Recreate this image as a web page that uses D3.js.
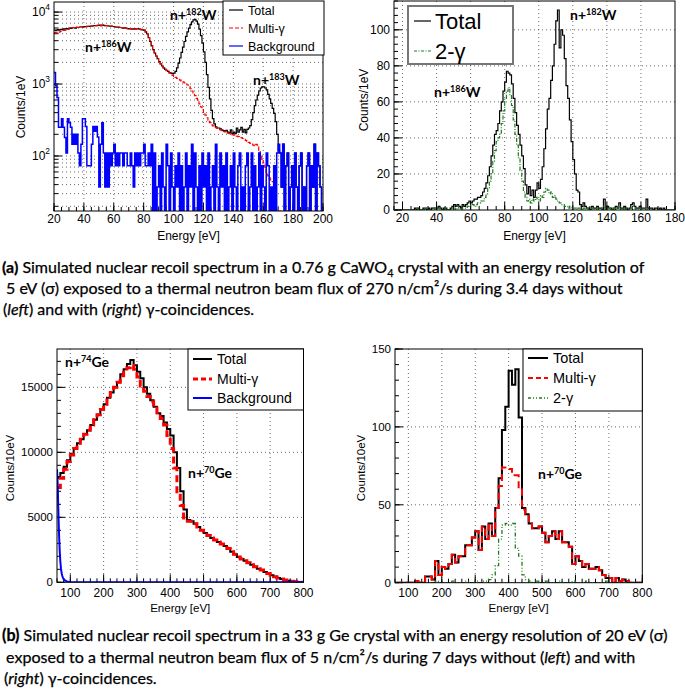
<!DOCTYPE html>
<html><head><meta charset="utf-8">
<script src="https://cdn.jsdelivr.net/npm/d3@7"></script>
<style>
html,body{margin:0;padding:0;background:#fff;}
svg{display:block;}
</style></head><body>
<svg id="chart" width="685" height="689"></svg>
<script>
// ---------------- DATA ----------------
// Panel (a) left: 1 eV bins from 20 to 200 eV
const tlStart = 20, tlBin = 1;
const tlTotal = [
5600,5500,5700,5600,5750,5700,5850,5800,5900,5850,
6000,5950,6050,6100,6000,6150,6100,6200,6250,6150,
6300,6250,6350,6300,6400,6350,6450,6500,6450,6550,
6600,6500,6600,6550,6450,6500,6400,6350,6400,6300,
6250,6200,6150,6200,6100,6050,6000,6050,5950,5900,
5850,5900,5800,5850,5800,5900,5850,5800,5700,5650,
5600,5300,5000,4400,3900,3400,3000,2700,2450,2250,
2050,1900,1780,1680,1600,1550,1500,1440,1420,1400,
1420,1500,1680,1950,2300,2750,3250,3900,4600,5300,
6000,6700,7300,7800,7900,7500,6800,5800,4700,3700,
2800,2000,1350,900,620,430,330,280,255,245,
245,238,230,225,222,228,215,210,230,205,
215,205,245,215,230,250,215,235,210,235,
245,265,320,400,500,600,700,800,880,910,
910,880,830,720,620,540,460,390,300,200,
120,110,37,146,0,73,110,0,37,73,
0,110,37,0,73,110,0,37,0,73,
110,0,73,37,146,0,110,73,37,0];
const tlMulti = [
5200,5150,5300,5250,5400,5400,5550,5600,5750,5750,
6000,5950,6050,6100,6000,6150,6100,6200,6250,6150,
6300,6250,6350,6300,6400,6350,6450,6500,6450,6550,
6600,6500,6600,6550,6450,6500,6400,6350,6400,6300,
6250,6200,6150,6200,6100,6050,6000,6050,5950,5900,
5850,5900,5800,5850,5800,5900,5850,5800,5700,5650,
5600,5300,5000,4400,3900,3400,3000,2700,2450,2250,
2050,1900,1780,1680,1600,1540,1480,1420,1370,1320,
1280,1240,1200,1160,1130,1100,1070,1040,1000,970,
920,860,800,750,690,630,580,530,480,440,
405,370,340,315,290,270,262,255,248,241,
235,230,225,220,216,212,208,205,201,198,
195,192,189,186,183,180,175,170,165,160,
155,150,146,142,138,145,142,120,100,90,
80,70,60,53,48,46,44,42,0,0,
0,0,0,0,0,0,0,0,0,0,
0,0,0,0,0,0,0,0,0,0,
0,0,0,0,0,0,0,0,0,0];
const tlBackground = [
1450,950,650,250,250,330,250,180,110,330,
290,250,146,200,146,200,110,73,146,330,
330,256,73,73,73,146,256,220,256,183,
37,146,290,110,37,110,37,110,73,110,
146,73,110,73,110,110,73,110,110,73,
73,110,73,37,110,73,110,73,110,110,
146,73,73,110,73,146,0,110,0,37,
73,0,110,37,0,146,73,0,110,37,
0,73,37,110,0,73,0,37,110,0,
73,37,146,0,110,37,0,73,0,110,
37,73,0,110,0,37,73,0,146,37,
0,110,37,73,0,110,0,37,73,0,
110,37,0,73,110,0,37,0,73,110,
0,37,110,0,73,0,37,110,0,73,
37,0,110,73,0,37,0,73,0,110,
146,110,37,146,0,73,110,0,37,73,
0,110,37,0,73,110,0,37,0,73,
110,0,73,37,146,0,110,73,37,0];

// Panel (a) right: 1 eV bins from 15 to 180 eV
const trStart = 15, trBin = 1;
const trTotal = [
0,0,0,0,0,0,0,0,0,0,
0,0,1,0,1,0,0,1,1,0,
1,0,1,1,1,1,2,1,0,1,
1,0,0,1,2,3,2,3,2,1,
3,2,3,4,5,4,5,6,6,7,
7,8,10,12,15,19,24,30,36,42,
44,48,55,60,66,71,77,76,75,70,
62,54,47,42,36,30,23,14,9,13,
8,11,7,11,15,12,17,24,34,45,
56,62,72,80,92,105,111,90,100,97,
84,69,62,50,38,28,20,11,10,3,
2,4,2,1,1,0,2,1,1,2,
1,1,0,6,1,2,1,1,0,1,
2,1,4,1,1,2,1,0,1,3,
4,2,1,1,2,1,1,1,6,1,
1,1,0,1,1,0,1,0,1,0,
0,0,0,0,0];
const trTwoGamma = [
0,0,0,0,0,0,0,0,0,0,
0,0,0,1,0,0,0,0,1,0,
0,0,0,1,0,0,1,0,0,0,
1,0,0,0,1,1,0,2,1,0,
1,1,1,2,2,3,3,2,3,4,
4,5,5,7,9,12,16,20,27,33,
38,40,42,48,55,62,66,68,64,58,
50,42,36,29,22,16,10,7,5,6,
4,6,5,7,6,5,8,7,10,12,
11,9,10,7,8,6,5,4,3,3,
2,2,1,2,1,1,1,0,1,1,
0,1,0,1,0,0,1,0,0,1,
0,0,1,2,0,0,1,0,0,1,
0,1,2,0,0,1,0,0,0,1,
2,1,0,0,1,0,0,0,1,0,
0,0,0,0,0,0,0,0,0,0,
0,0,0,0,0];

// Panel (b) left: 10 eV bins from 60 to 800 eV
const blStart = 60, blBin = 10;
const blTotal = [
8100,8400,8900,9400,9900,10300,10700,11000,11400,11700,
12100,12500,12900,13300,13700,14200,14600,15000,15400,16000,
16400,16800,17100,16700,16200,15700,15000,14500,14000,13500,
13000,12800,12300,11800,11300,10000,8800,7000,5600,4800,
4700,4500,4250,4000,3800,3600,3400,3250,3100,2950,
2800,2600,2350,2150,1950,1800,1650,1500,1350,1200,
1050,950,800,680,550,420,330,250,180,120,
80,50,20,5];
const blMulti = [
7300,8000,8700,9300,9800,10300,10700,11000,11400,11700,
12100,12500,12900,13300,13700,14200,14600,15000,15400,15900,
16300,16500,16700,16400,15800,15100,14700,14300,13900,13400,
12900,12600,12100,11300,10300,8800,6700,5900,4700,4700,
4700,4500,4250,4000,3800,3600,3400,3250,3100,2950,
2800,2600,2350,2150,1950,1800,1650,1500,1350,1200,
1050,950,800,680,550,420,330,250,180,120,
80,50,20,5];
const blBgEnergy = [60,62,64,66,68,70,72,74,76,78,80,85,90,95,100,110,130,200,800];
const blBgValue  = [8700,7600,5600,3800,2500,1600,1050,700,480,340,250,130,70,40,25,10,4,1,0];

// Panel (b) right: 10 eV bins from 60 to 800 eV
const brStart = 60, brBin = 10;
const brTotal = [
0,0,0,0,0,0,1,0,0,4,
4,2,14,5,10,9,12,18,13,17,
17,24,24,29,33,21,36,28,38,30,
48,67,98,113,136,127,137,106,48,44,
38,35,35,36,32,26,30,33,28,33,
26,26,23,12,17,14,10,12,9,9,
10,8,5,3,3,0,3,1,2,1,
0,0,0,0];
const brMulti = [
0,0,0,0,0,0,1,0,0,4,
4,2,14,5,10,9,12,18,13,17,
17,24,24,29,33,21,36,28,38,30,
48,62,74,74,73,69,69,60,47,44,
38,35,35,36,32,26,30,33,28,33,
26,26,23,12,17,14,10,12,9,9,
10,8,5,3,3,0,3,1,2,1,
0,0,0,0];
const brTwoGamma = [
0,0,0,0,0,0,0,0,0,0,
0,0,1,0,0,0,0,1,0,0,
0,1,0,0,1,0,1,1,2,5,
11,28,37,38,37,38,22,17,5,2,
1,0,1,0,0,1,0,0,0,1,
0,0,0,1,0,0,0,1,0,0,
0,0,0,1,0,0,0,0,0,0,
0,0,0,0];

const tlTicksX = [20,40,60,80,100,120,140,160,180,200];
const trTicksX = [20,40,60,80,100,120,140,160,180];
const trTicksY = [0,20,40,60,80,100];
const bTicksX = [100,200,300,400,500,600,700,800];
const blTicksY = [0,5000,10000,15000];
const brTicksY = [0,50,100,150];

// ---------------- DRAWING ----------------
const svg = d3.select('#chart');
const AX = "'Liberation Sans', Arial, Helvetica, sans-serif";
const CAP = "Lato, 'Open Sans', sans-serif";

function histPts(start, w, vals){
  const p = vals.map((v,i)=>[start+i*w, v]);
  p.push([start+vals.length*w, vals[vals.length-1]]);
  return p;
}

let clipN = 0;
function panel(p){
  const g = svg.append('g');
  const [x0,x1] = p.x.range();
  const [y0,y1] = p.y.range();
  const cid = 'clip'+(clipN++);
  svg.append('clipPath').attr('id',cid).append('rect')
    .attr('x',x0).attr('y',y1).attr('width',x1-x0).attr('height',y0-y1);
  // grid
  const grid = g.append('g').attr('stroke','#444').attr('stroke-width',0.8).attr('stroke-dasharray','1,3');
  p.gridX.forEach(v=>grid.append('line').attr('x1',p.x(v)).attr('x2',p.x(v)).attr('y1',y1).attr('y2',y0));
  p.gridY.forEach(v=>grid.append('line').attr('y1',p.y(v)).attr('y2',p.y(v)).attr('x1',x0).attr('x2',x1));
  // ticks (inward)
  const tk = g.append('g').attr('stroke','#000').attr('stroke-width',1);
  p.xMajor.forEach(v=>tk.append('line').attr('x1',p.x(v)).attr('x2',p.x(v)).attr('y1',y0).attr('y2',y0-p.tl));
  p.xMinor.forEach(v=>tk.append('line').attr('x1',p.x(v)).attr('x2',p.x(v)).attr('y1',y0).attr('y2',y0-p.tl/2));
  p.yMajor.forEach(v=>tk.append('line').attr('y1',p.y(v)).attr('y2',p.y(v)).attr('x1',x0).attr('x2',x0+p.tl));
  p.yMinor.forEach(v=>tk.append('line').attr('y1',p.y(v)).attr('y2',p.y(v)).attr('x1',x0).attr('x2',x0+p.tl/2));
  // series
  const sg = g.append('g').attr('clip-path','url(#'+cid+')');
  const lo = p.y.domain()[0];
  p.series.forEach(s=>{
    const line = d3.line().x(d=>p.x(d[0])).y(d=>p.y(Math.max(d[1], lo)));
    if(s.step) line.curve(d3.curveStepAfter);
    sg.append('path').attr('d', line(s.pts)).attr('fill','none')
      .attr('stroke', s.color).attr('stroke-width', s.width)
      .attr('stroke-dasharray', s.dash || null).attr('stroke-linejoin','miter');
  });
  // frame
  g.append('rect').attr('x',x0).attr('y',y1).attr('width',x1-x0).attr('height',y0-y1)
    .attr('fill','none').attr('stroke','#000').attr('stroke-width',1);
  // tick labels
  const lab = g.append('g').attr('font-family',AX).attr('fill','#000');
  p.xLabels.forEach(v=>lab.append('text').attr('x',p.x(v)).attr('y',p.xLabY)
    .attr('text-anchor','middle').attr('font-size',p.xfs).text(v));
  p.yLabels.forEach(v=>{
    const t = lab.append('text').attr('x',x0-4).attr('y',p.y(v)+p.yfs*0.36)
      .attr('text-anchor','end').attr('font-size',p.yfs);
    if(p.logLabels){
      t.append('tspan').text('10');
      t.append('tspan').attr('dy',-6).attr('font-size',p.yfs*0.7).text(Math.round(Math.log10(v)));
    } else t.text(v);
  });
  // axis titles
  lab.append('text').attr('x',(x0+x1)/2).attr('y',p.xTitleY).attr('text-anchor','middle')
    .attr('font-size',p.tfs).text('Energy [eV]');
  lab.append('text').attr('transform',`translate(${p.yTitleX},${p.yTitleY}) rotate(-90)`)
    .attr('text-anchor','middle').attr('font-size',p.tfs).text(p.yTitle);
  // legend
  const L = p.legend;
  const lg = g.append('g');
  lg.append('rect').attr('x',L.x).attr('y',L.y).attr('width',L.w).attr('height',L.h)
    .attr('fill','#fff').attr('stroke',L.stroke||'#000').attr('stroke-width',L.sw||1);
  L.items.forEach(it=>{
    lg.append('line').attr('x1',L.lx0).attr('x2',L.lx1).attr('y1',it.y).attr('y2',it.y)
      .attr('stroke',it.color).attr('stroke-width',it.width).attr('stroke-dasharray',it.dash||null);
    lg.append('text').attr('x',L.tx).attr('y',it.y+L.fs*0.36).attr('font-family',AX)
      .attr('font-size',L.fs).text(it.label);
  });
  // annotations
  p.notes.forEach(n=>{
    const t = g.append('text').attr('x',n.x).attr('y',n.y).attr('font-family',CAP)
      .attr('font-weight','bold').attr('font-size',14);
    t.append('tspan').text('n+');
    t.append('tspan').attr('dy',-5).attr('font-size',9).text(n.iso);
    t.append('tspan').attr('dy',5).text(n.el);
  });
}

function range(a,b,s){const r=[];for(let v=a;v<=b+1e-9;v+=s)r.push(+v.toFixed(6));return r;}
function logMinor(lo,hi){const r=[];for(let d=1;d<=4;d++)for(let m=1;m<=9;m++){const v=m*Math.pow(10,d);if(v>=lo&&v<=hi)r.push(v);}return r;}

// ---- (a) left
{
  const x = d3.scaleLinear().domain([20,200]).range([54,323]);
  const y = d3.scaleLog().domain([17.2,13800]).range([211,2]);
  panel({x,y,tl:8,
    gridX: range(40,180,20), gridY: logMinor(20,13000),
    xMajor: tlTicksX, xMinor: range(20,200,5),
    yMajor:[100,1000,10000], yMinor: logMinor(18,13800),
    xLabels: tlTicksX, xLabY:223, xfs:12,
    yLabels:[100,1000,10000], yfs:12, logLabels:true,
    xTitleY:240, yTitleX:25, yTitleY:107, tfs:12, yTitle:'Counts/1eV',
    series:[
      {pts:histPts(tlStart,tlBin,tlTotal), color:'#000', width:1.2, step:true},
      {pts:histPts(tlStart,tlBin,tlMulti), color:'#ff0000', width:1.2, dash:'4,2', step:true},
      {pts:histPts(tlStart,tlBin,tlBackground), color:'#0000ff', width:1.5, step:true}],
    legend:{x:223,y:1,w:101,h:54,lx0:229,lx1:243,tx:248,fs:12.5,
      items:[{label:'Total',y:10,color:'#000',width:1.2},
             {label:'Multi-\u03b3',y:28,color:'#ff0000',width:1.2,dash:'4,2'},
             {label:'Background',y:46,color:'#0000ff',width:1.2}]},
    notes:[{x:170,y:20,iso:'182',el:'W'},{x:85,y:52,iso:'186',el:'W'},{x:253,y:85,iso:'183',el:'W'}]
  });
}
// ---- (a) right
{
  const x = d3.scaleLinear().domain([15,180]).range([394,675]);
  const y = d3.scaleLinear().domain([0,116]).range([210,1]);
  panel({x,y,tl:8,
    gridX: range(20,160,20), gridY: range(20,100,20),
    xMajor: trTicksX, xMinor: range(15,180,5),
    yMajor: trTicksY, yMinor: range(0,116,4),
    xLabels: trTicksX, xLabY:222, xfs:12,
    yLabels: trTicksY, yfs:12,
    xTitleY:240, yTitleX:368, yTitleY:100, tfs:12, yTitle:'Counts/1eV',
    series:[
      {pts:histPts(trStart,trBin,trTotal), color:'#000', width:1.2, step:true},
      {pts:histPts(trStart,trBin,trTwoGamma), color:'#1e7b1e', width:1.2, dash:'4,1.5,1,1.5', step:true}],
    legend:{x:408,y:6,w:105,h:58,lx0:414,lx1:431,tx:435,fs:22,stroke:'#777',sw:2,
      items:[{label:'Total',y:21,color:'#000',width:1.2},
             {label:'2-\u03b3',y:51,color:'#1e7b1e',width:1.2,dash:'3,1.5,1,1.5'}]},
    notes:[{x:570,y:20,iso:'182',el:'W'},{x:434,y:97,iso:'186',el:'W'}]
  });
}
// ---- (b) left
{
  const x = d3.scaleLinear().domain([60,800]).range([57,303.5]);
  const y = d3.scaleLinear().domain([0,17950]).range([582.3,349]);
  panel({x,y,tl:8,
    gridX: range(100,700,100), gridY:[5000,10000,15000],
    xMajor: bTicksX, xMinor: range(60,800,20),
    yMajor: blTicksY, yMinor: range(0,17000,1000),
    xLabels: bTicksX, xLabY:597, xfs:12,
    yLabels: blTicksY, yfs:11.5,
    xTitleY:612, yTitleX:14, yTitleY:468, tfs:11.5, yTitle:'Counts/10eV',
    series:[
      {pts:histPts(blStart,blBin,blTotal), color:'#000', width:2, step:true},
      {pts:histPts(blStart,blBin,blMulti), color:'#ff0000', width:3, dash:'7,4', step:true},
      {pts:blBgEnergy.map((e,i)=>[e,blBgValue[i]]), color:'#0000ff', width:2, step:false}],
    legend:{x:188,y:349,w:115.5,h:61,lx0:193,lx1:212,tx:217,fs:14,
      items:[{label:'Total',y:359,color:'#000',width:2},
             {label:'Multi-\u03b3',y:379,color:'#ff0000',width:3,dash:'5,3'},
             {label:'Background',y:398,color:'#0000ff',width:2}]},
    notes:[{x:65,y:367,iso:'74',el:'Ge'},{x:188,y:478,iso:'70',el:'Ge'}]
  });
}
// ---- (b) right
{
  const x = d3.scaleLinear().domain([60,800]).range([395,642.3]);
  const y = d3.scaleLinear().domain([0,150]).range([582.7,349]);
  panel({x,y,tl:8,
    gridX: range(100,700,100), gridY:[50,100],
    xMajor: bTicksX, xMinor: range(60,800,20),
    yMajor: brTicksY, yMinor: range(0,150,10),
    xLabels: bTicksX, xLabY:597, xfs:12,
    yLabels: brTicksY, yfs:11.5,
    xTitleY:612, yTitleX:365, yTitleY:468, tfs:11.5, yTitle:'Counts/10eV',
    series:[
      {pts:histPts(brStart,brBin,brTotal), color:'#000', width:2, step:true},
      {pts:histPts(brStart,brBin,brMulti), color:'#ff0000', width:2, dash:'7,4', step:true},
      {pts:histPts(brStart,brBin,brTwoGamma), color:'#1e7b1e', width:1.3, dash:'4,2,1,2,1,2', step:true}],
    legend:{x:523,y:349,w:119.3,h:62,lx0:528,lx1:548,tx:553,fs:14.5,
      items:[{label:'Total',y:358,color:'#000',width:2},
             {label:'Multi-\u03b3',y:378,color:'#ff0000',width:2,dash:'5,3'},
             {label:'2-\u03b3',y:398,color:'#1e7b1e',width:1.3,dash:'3,2,1,2,1,2'}]},
    notes:[{x:538,y:479,iso:'70',el:'Ge'}]
  });
}

// ---------------- CAPTIONS ----------------
const capA = [
  {x:2, y:273, segs:[{t:'(a)',b:1},{t:' Simulated nuclear recoil spectrum in a 0.76 g CaWO'},{t:'4',sub:1},{t:' crystal with an energy resolution of',after:1}]},
  {x:6, y:294, segs:[{t:'5 eV (\u03c3) exposed to a thermal neutron beam flux of 270 n/cm\u00b2/s during 3.4 days without'}]},
  {x:3, y:315, segs:[{t:'('},{t:'left',i:1},{t:') and with ('},{t:'right',i:1},{t:') \u03b3-coincidences.'}]}];
const capB = [
  {x:2, y:641, segs:[{t:'(b)',b:1},{t:' Simulated nuclear recoil spectrum in a 33 g Ge crystal with an energy resolution of 20 eV (\u03c3)'}]},
  {x:6, y:663, segs:[{t:'exposed to a thermal neutron beam flux of 5 n/cm\u00b2/s during 7 days without ('},{t:'left',i:1},{t:') and with'}]},
  {x:4, y:684, segs:[{t:'('},{t:'right',i:1},{t:') \u03b3-coincidences.'}]}];

function caption(lines, targetW){
  const texts = lines.map(l=>{
    const t = svg.append('text').attr('x',l.x).attr('y',l.y).attr('font-family',CAP)
      .attr('font-size',16).attr('fill','#000').attr('stroke','#000').attr('stroke-width',0.25);
    l.segs.forEach(s=>{
      const ts = t.append('tspan').text(s.t);
      if(s.b) ts.attr('font-weight','bold');
      if(s.i) ts.attr('font-style','italic');
      if(s.sub) ts.attr('dy',4).attr('class','sub');
      if(s.after) ts.attr('dy',-4);
    });
    return t;
  });
  const w = texts[0].node().getComputedTextLength();
  const fs = 16*targetW/w;
  texts.forEach(t=>{
    t.attr('font-size',fs);
    t.selectAll('tspan.sub').attr('font-size',fs*0.68);
  });
}
caption(capA, 646);
caption(capB, 666);
</script></body></html>
